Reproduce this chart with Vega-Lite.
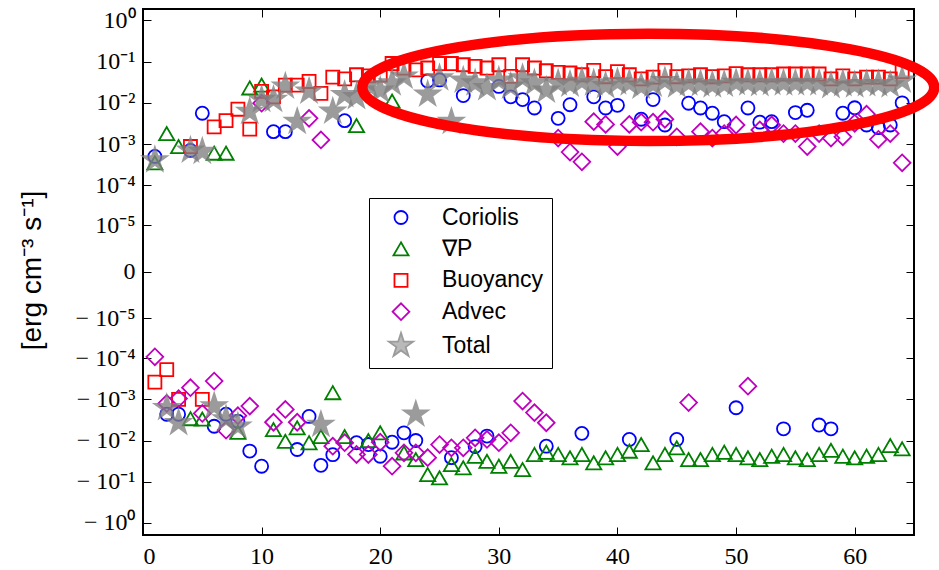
{
  "$schema": "https://vega.github.io/schema/vega-lite/v6.json",
  "width": 771,
  "height": 526,
  "autosize": "none",
  "padding": {"left": 143, "top": 9, "right": 25, "bottom": 35},
  "background": "white",
  "config": {
    "view": {"stroke": "black", "strokeWidth": 2},
    "axis": {"domain": false, "grid": false, "tickColor": "black", "tickWidth": 1, "labelColor": "black", "labelFont": "Liberation Serif", "labelFontSize": 24}
  },
  "datasets": {
    "pts": [
      {"x":1,"v":5e-4,"s":"Coriolis"},{"x":2,"v":-2.3e-3,"s":"Coriolis"},{"x":3,"v":-2.3e-3,"s":"Coriolis"},{"x":4,"v":7e-4,"s":"Coriolis"},{"x":5,"v":5.6e-3,"s":"Coriolis"},{"x":6,"v":-4.5e-3,"s":"Coriolis"},{"x":7,"v":-2.3e-3,"s":"Coriolis"},{"x":8,"v":-3.4e-3,"s":"Coriolis"},{"x":9,"v":-0.018,"s":"Coriolis"},{"x":10,"v":-0.042,"s":"Coriolis"},{"x":11,"v":2e-3,"s":"Coriolis"},{"x":12,"v":2e-3,"s":"Coriolis"},{"x":13,"v":-0.0165,"s":"Coriolis"},{"x":14,"v":-2.6e-3,"s":"Coriolis"},{"x":15,"v":-0.04,"s":"Coriolis"},{"x":16,"v":-0.022,"s":"Coriolis"},{"x":17,"v":3.7e-3,"s":"Coriolis"},{"x":18,"v":-0.0113,"s":"Coriolis"},{"x":19,"v":-0.0125,"s":"Coriolis"},{"x":20,"v":-0.024,"s":"Coriolis"},{"x":21,"v":-0.011,"s":"Coriolis"},{"x":22,"v":-6.5e-3,"s":"Coriolis"},{"x":23,"v":-0.01,"s":"Coriolis"},{"x":24,"v":0.034,"s":"Coriolis"},{"x":25,"v":0.036,"s":"Coriolis"},{"x":26,"v":-0.026,"s":"Coriolis"},{"x":27,"v":0.015,"s":"Coriolis"},{"x":28,"v":-0.014,"s":"Coriolis"},{"x":29,"v":-7.8e-3,"s":"Coriolis"},{"x":30,"v":0.025,"s":"Coriolis"},{"x":31,"v":0.014,"s":"Coriolis"},{"x":32,"v":0.012,"s":"Coriolis"},{"x":33,"v":7.5e-3,"s":"Coriolis"},{"x":34,"v":-0.0137,"s":"Coriolis"},{"x":35,"v":4.2e-3,"s":"Coriolis"},{"x":36,"v":9e-3,"s":"Coriolis"},{"x":37,"v":-6.7e-3,"s":"Coriolis"},{"x":38,"v":0.014,"s":"Coriolis"},{"x":39,"v":7.5e-3,"s":"Coriolis"},{"x":40,"v":8.7e-3,"s":"Coriolis"},{"x":41,"v":-9.4e-3,"s":"Coriolis"},{"x":42,"v":4e-3,"s":"Coriolis"},{"x":43,"v":0.012,"s":"Coriolis"},{"x":44,"v":2.9e-3,"s":"Coriolis"},{"x":45,"v":-9.4e-3,"s":"Coriolis"},{"x":46,"v":9.8e-3,"s":"Coriolis"},{"x":47,"v":7.5e-3,"s":"Coriolis"},{"x":48,"v":5.6e-3,"s":"Coriolis"},{"x":49,"v":3.5e-3,"s":"Coriolis"},{"x":50,"v":-1.6e-3,"s":"Coriolis"},{"x":51,"v":7.5e-3,"s":"Coriolis"},{"x":52,"v":3.4e-3,"s":"Coriolis"},{"x":53,"v":3.5e-3,"s":"Coriolis"},{"x":54,"v":-5.2e-3,"s":"Coriolis"},{"x":55,"v":5.8e-3,"s":"Coriolis"},{"x":56,"v":6.6e-3,"s":"Coriolis"},{"x":57,"v":-4.2e-3,"s":"Coriolis"},{"x":58,"v":-5.2e-3,"s":"Coriolis"},{"x":59,"v":5.6e-3,"s":"Coriolis"},{"x":60,"v":7.6e-3,"s":"Coriolis"},{"x":61,"v":2.9e-3,"s":"Coriolis"},{"x":62,"v":2.5e-3,"s":"Coriolis"},{"x":63,"v":2.9e-3,"s":"Coriolis"},{"x":64,"v":0.01,"s":"Coriolis"},

      {"x":1,"v":3.5e-4,"s":"∇P"},{"x":2,"v":1.8e-3,"s":"∇P"},{"x":3,"v":8.7e-4,"s":"∇P"},{"x":4,"v":-2.95e-3,"s":"∇P"},{"x":5,"v":-3e-3,"s":"∇P"},{"x":6,"v":6e-4,"s":"∇P"},{"x":7,"v":6e-4,"s":"∇P"},{"x":8,"v":-6.3e-3,"s":"∇P"},{"x":9,"v":0.023,"s":"∇P"},{"x":10,"v":0.027,"s":"∇P"},{"x":11,"v":-5.4e-3,"s":"∇P"},{"x":12,"v":-0.0104,"s":"∇P"},{"x":13,"v":-4.9e-3,"s":"∇P"},{"x":14,"v":-0.0113,"s":"∇P"},{"x":15,"v":-0.008,"s":"∇P"},{"x":16,"v":-6.9e-4,"s":"∇P"},{"x":17,"v":-0.008,"s":"∇P"},{"x":18,"v":2.8e-3,"s":"∇P"},{"x":19,"v":-0.01,"s":"∇P"},{"x":20,"v":-6.5e-3,"s":"∇P"},{"x":21,"v":0.011,"s":"∇P"},{"x":22,"v":-0.02,"s":"∇P"},{"x":23,"v":-0.0289,"s":"∇P"},{"x":24,"v":-0.0669,"s":"∇P"},{"x":25,"v":-0.0805,"s":"∇P"},{"x":26,"v":-0.0382,"s":"∇P"},{"x":27,"v":-0.0459,"s":"∇P"},{"x":28,"v":-0.024,"s":"∇P"},{"x":29,"v":-0.0318,"s":"∇P"},{"x":30,"v":-0.042,"s":"∇P"},{"x":31,"v":-0.0318,"s":"∇P"},{"x":32,"v":-0.0506,"s":"∇P"},{"x":33,"v":-0.0218,"s":"∇P"},{"x":34,"v":-0.0192,"s":"∇P"},{"x":35,"v":-0.0218,"s":"∇P"},{"x":36,"v":-0.0263,"s":"∇P"},{"x":37,"v":-0.0218,"s":"∇P"},{"x":38,"v":-0.0347,"s":"∇P"},{"x":39,"v":-0.0263,"s":"∇P"},{"x":40,"v":-0.0218,"s":"∇P"},{"x":41,"v":-0.0181,"s":"∇P"},{"x":42,"v":-0.0125,"s":"∇P"},{"x":43,"v":-0.0347,"s":"∇P"},{"x":44,"v":-0.0218,"s":"∇P"},{"x":45,"v":-0.015,"s":"∇P"},{"x":46,"v":-0.0289,"s":"∇P"},{"x":47,"v":-0.0289,"s":"∇P"},{"x":48,"v":-0.0218,"s":"∇P"},{"x":49,"v":-0.0192,"s":"∇P"},{"x":50,"v":-0.0218,"s":"∇P"},{"x":51,"v":-0.0263,"s":"∇P"},{"x":52,"v":-0.0289,"s":"∇P"},{"x":53,"v":-0.024,"s":"∇P"},{"x":54,"v":-0.0218,"s":"∇P"},{"x":55,"v":-0.0263,"s":"∇P"},{"x":56,"v":-0.0289,"s":"∇P"},{"x":57,"v":-0.0218,"s":"∇P"},{"x":58,"v":-0.0172,"s":"∇P"},{"x":59,"v":-0.024,"s":"∇P"},{"x":60,"v":-0.0263,"s":"∇P"},{"x":61,"v":-0.024,"s":"∇P"},{"x":62,"v":-0.0218,"s":"∇P"},{"x":63,"v":-0.0132,"s":"∇P"},{"x":64,"v":-0.0159,"s":"∇P"},

      {"x":1,"v":-3.8e-4,"s":"Buoyancy"},{"x":2,"v":-1.9e-4,"s":"Buoyancy"},{"x":3,"v":-1e-3,"s":"Buoyancy"},{"x":4,"v":8.7e-4,"s":"Buoyancy"},{"x":5,"v":-1e-3,"s":"Buoyancy"},{"x":6,"v":2.6e-3,"s":"Buoyancy"},{"x":7,"v":3.7e-3,"s":"Buoyancy"},{"x":8,"v":7e-3,"s":"Buoyancy"},{"x":9,"v":2.3e-3,"s":"Buoyancy"},{"x":10,"v":0.019,"s":"Buoyancy"},{"x":11,"v":0.014,"s":"Buoyancy"},{"x":12,"v":0.027,"s":"Buoyancy"},{"x":13,"v":0.027,"s":"Buoyancy"},{"x":14,"v":0.033,"s":"Buoyancy"},{"x":15,"v":0.017,"s":"Buoyancy"},{"x":16,"v":0.042,"s":"Buoyancy"},{"x":17,"v":0.038,"s":"Buoyancy"},{"x":18,"v":0.048,"s":"Buoyancy"},{"x":19,"v":0.045,"s":"Buoyancy"},{"x":20,"v":0.047,"s":"Buoyancy"},{"x":21,"v":0.09,"s":"Buoyancy"},{"x":22,"v":0.07,"s":"Buoyancy"},{"x":23,"v":0.063,"s":"Buoyancy"},{"x":24,"v":0.07,"s":"Buoyancy"},{"x":25,"v":0.09,"s":"Buoyancy"},{"x":26,"v":0.09,"s":"Buoyancy"},{"x":27,"v":0.084,"s":"Buoyancy"},{"x":28,"v":0.077,"s":"Buoyancy"},{"x":29,"v":0.07,"s":"Buoyancy"},{"x":30,"v":0.084,"s":"Buoyancy"},{"x":31,"v":0.044,"s":"Buoyancy"},{"x":32,"v":0.084,"s":"Buoyancy"},{"x":33,"v":0.07,"s":"Buoyancy"},{"x":34,"v":0.06,"s":"Buoyancy"},{"x":35,"v":0.055,"s":"Buoyancy"},{"x":36,"v":0.053,"s":"Buoyancy"},{"x":37,"v":0.048,"s":"Buoyancy"},{"x":38,"v":0.061,"s":"Buoyancy"},{"x":39,"v":0.043,"s":"Buoyancy"},{"x":40,"v":0.057,"s":"Buoyancy"},{"x":41,"v":0.048,"s":"Buoyancy"},{"x":42,"v":0.038,"s":"Buoyancy"},{"x":43,"v":0.042,"s":"Buoyancy"},{"x":44,"v":0.061,"s":"Buoyancy"},{"x":45,"v":0.043,"s":"Buoyancy"},{"x":46,"v":0.045,"s":"Buoyancy"},{"x":47,"v":0.048,"s":"Buoyancy"},{"x":48,"v":0.043,"s":"Buoyancy"},{"x":49,"v":0.045,"s":"Buoyancy"},{"x":50,"v":0.051,"s":"Buoyancy"},{"x":51,"v":0.048,"s":"Buoyancy"},{"x":52,"v":0.048,"s":"Buoyancy"},{"x":53,"v":0.048,"s":"Buoyancy"},{"x":54,"v":0.05,"s":"Buoyancy"},{"x":55,"v":0.05,"s":"Buoyancy"},{"x":56,"v":0.05,"s":"Buoyancy"},{"x":57,"v":0.05,"s":"Buoyancy"},{"x":58,"v":0.038,"s":"Buoyancy"},{"x":59,"v":0.045,"s":"Buoyancy"},{"x":60,"v":0.038,"s":"Buoyancy"},{"x":61,"v":0.042,"s":"Buoyancy"},{"x":62,"v":0.042,"s":"Buoyancy"},{"x":63,"v":0.038,"s":"Buoyancy"},{"x":64,"v":0.057,"s":"Buoyancy"},

      {"x":1,"v":-9.2e-5,"s":"Advec"},{"x":2,"v":-1.26e-3,"s":"Advec"},{"x":3,"v":-9.6e-4,"s":"Advec"},{"x":4,"v":-5.2e-4,"s":"Advec"},{"x":5,"v":-2.2e-3,"s":"Advec"},{"x":6,"v":-3.6e-4,"s":"Advec"},{"x":7,"v":-5.6e-3,"s":"Advec"},{"x":8,"v":-2.5e-3,"s":"Advec"},{"x":9,"v":-1.46e-3,"s":"Advec"},{"x":10,"v":9.8e-3,"s":"Advec"},{"x":11,"v":-3.6e-3,"s":"Advec"},{"x":12,"v":-1.76e-3,"s":"Advec"},{"x":13,"v":-3.6e-3,"s":"Advec"},{"x":14,"v":4.2e-3,"s":"Advec"},{"x":15,"v":1.26e-3,"s":"Advec"},{"x":16,"v":-0.0137,"s":"Advec"},{"x":17,"v":-0.0113,"s":"Advec"},{"x":18,"v":-0.0218,"s":"Advec"},{"x":19,"v":-0.0218,"s":"Advec"},{"x":20,"v":-0.011,"s":"Advec"},{"x":21,"v":-0.042,"s":"Advec"},{"x":22,"v":-0.0198,"s":"Advec"},{"x":23,"v":-0.0198,"s":"Advec"},{"x":24,"v":-0.026,"s":"Advec"},{"x":25,"v":-0.0125,"s":"Advec"},{"x":26,"v":-0.015,"s":"Advec"},{"x":27,"v":-0.015,"s":"Advec"},{"x":28,"v":-8.6e-3,"s":"Advec"},{"x":29,"v":-9.4e-3,"s":"Advec"},{"x":30,"v":-0.0113,"s":"Advec"},{"x":31,"v":-6.5e-3,"s":"Advec"},{"x":32,"v":-1.1e-3,"s":"Advec"},{"x":33,"v":-2.1e-3,"s":"Advec"},{"x":34,"v":-3.7e-3,"s":"Advec"},{"x":35,"v":1.4e-3,"s":"Advec"},{"x":36,"v":6.4e-4,"s":"Advec"},{"x":37,"v":3.7e-4,"s":"Advec"},{"x":38,"v":3.5e-3,"s":"Advec"},{"x":39,"v":3e-3,"s":"Advec"},{"x":40,"v":8.7e-4,"s":"Advec"},{"x":41,"v":3e-3,"s":"Advec"},{"x":42,"v":3.4e-3,"s":"Advec"},{"x":43,"v":3.4e-3,"s":"Advec"},{"x":44,"v":4e-3,"s":"Advec"},{"x":45,"v":1.5e-3,"s":"Advec"},{"x":46,"v":-1.2e-3,"s":"Advec"},{"x":47,"v":2e-3,"s":"Advec"},{"x":48,"v":1.4e-3,"s":"Advec"},{"x":49,"v":1.8e-3,"s":"Advec"},{"x":50,"v":2.9e-3,"s":"Advec"},{"x":51,"v":-4.8e-4,"s":"Advec"},{"x":52,"v":2.2e-3,"s":"Advec"},{"x":53,"v":2.9e-3,"s":"Advec"},{"x":54,"v":1.8e-3,"s":"Advec"},{"x":55,"v":1.8e-3,"s":"Advec"},{"x":56,"v":8.7e-4,"s":"Advec"},{"x":57,"v":1.8e-3,"s":"Advec"},{"x":58,"v":1.4e-3,"s":"Advec"},{"x":59,"v":1.5e-3,"s":"Advec"},{"x":60,"v":3.2e-3,"s":"Advec"},{"x":61,"v":5.3e-3,"s":"Advec"},{"x":62,"v":1.3e-3,"s":"Advec"},{"x":63,"v":1.8e-3,"s":"Advec"},{"x":64,"v":3.5e-4,"s":"Advec"},

      {"x":1,"v":4.1e-4,"s":"Total"},{"x":2,"v":-1.6e-3,"s":"Total"},{"x":3,"v":-3.7e-3,"s":"Total"},{"x":4,"v":7e-4,"s":"Total"},{"x":5,"v":6.6e-4,"s":"Total"},{"x":6,"v":-1.46e-3,"s":"Total"},{"x":7,"v":-3e-3,"s":"Total"},{"x":8,"v":-4.5e-3,"s":"Total"},{"x":9,"v":6.1e-3,"s":"Total"},{"x":10,"v":0.012,"s":"Total"},{"x":11,"v":0.012,"s":"Total"},{"x":12,"v":0.025,"s":"Total"},{"x":13,"v":3.5e-3,"s":"Total"},{"x":14,"v":0.019,"s":"Total"},{"x":15,"v":-4.1e-3,"s":"Total"},{"x":16,"v":6.2e-3,"s":"Total"},{"x":17,"v":0.0157,"s":"Total"},{"x":18,"v":0.014,"s":"Total"},{"x":19,"v":0.027,"s":"Total"},{"x":20,"v":0.02,"s":"Total"},{"x":21,"v":0.03,"s":"Total"},{"x":22,"v":0.044,"s":"Total"},{"x":23,"v":-2.3e-3,"s":"Total"},{"x":24,"v":0.016,"s":"Total"},{"x":25,"v":0.04,"s":"Total"},{"x":26,"v":3.5e-3,"s":"Total"},{"x":27,"v":0.035,"s":"Total"},{"x":28,"v":0.03,"s":"Total"},{"x":29,"v":0.023,"s":"Total"},{"x":30,"v":0.035,"s":"Total"},{"x":31,"v":0.025,"s":"Total"},{"x":32,"v":0.04,"s":"Total"},{"x":33,"v":0.03,"s":"Total"},{"x":34,"v":0.02,"s":"Total"},{"x":35,"v":0.03,"s":"Total"},{"x":36,"v":0.028,"s":"Total"},{"x":37,"v":0.033,"s":"Total"},{"x":38,"v":0.03,"s":"Total"},{"x":39,"v":0.026,"s":"Total"},{"x":40,"v":0.032,"s":"Total"},{"x":41,"v":0.03,"s":"Total"},{"x":42,"v":0.025,"s":"Total"},{"x":43,"v":0.028,"s":"Total"},{"x":44,"v":0.034,"s":"Total"},{"x":45,"v":0.027,"s":"Total"},{"x":46,"v":0.03,"s":"Total"},{"x":47,"v":0.029,"s":"Total"},{"x":48,"v":0.027,"s":"Total"},{"x":49,"v":0.028,"s":"Total"},{"x":50,"v":0.031,"s":"Total"},{"x":51,"v":0.03,"s":"Total"},{"x":52,"v":0.029,"s":"Total"},{"x":53,"v":0.031,"s":"Total"},{"x":54,"v":0.03,"s":"Total"},{"x":55,"v":0.03,"s":"Total"},{"x":56,"v":0.031,"s":"Total"},{"x":57,"v":0.03,"s":"Total"},{"x":58,"v":0.026,"s":"Total"},{"x":59,"v":0.029,"s":"Total"},{"x":60,"v":0.027,"s":"Total"},{"x":61,"v":0.029,"s":"Total"},{"x":62,"v":0.029,"s":"Total"},{"x":63,"v":0.027,"s":"Total"},{"x":64,"v":0.035,"s":"Total"}
    ],
    "mark": [{"x": 42.6, "v": 0.0237}]
  },
  "layer": [
    {
      "data": {"name": "pts"},
      "mark": {"type": "point", "strokeWidth": 1.8},
      "encoding": {
        "x": {"field": "x", "type": "quantitative", "scale": {"domain": [0, 65], "nice": false, "zero": false},
              "axis": {"orient": "bottom", "values": [0,10,20,30,40,50,60], "tickSize": -8, "labelPadding": 17, "title": null}},
        "y": {"field": "v", "type": "quantitative", "scale": {"type": "symlog", "constant": 8e-7, "domain": [-1.959, 1.893], "nice": false, "zero": false},
              "axis": {"orient": "left", "values": [1,0.1,0.01,0.001,0.0001,0.00001,0,-0.00001,-0.0001,-0.001,-0.01,-0.1,-1], "tickSize": -8, "labelPadding": 16,
                       "labelExpr": "datum.value == 0 ? '0' : (datum.value < 0 ? '− ' : '') + '10' + ['⁰','⁻¹','⁻²','⁻³','⁻⁴','⁻⁵'][round(-log(abs(datum.value))/LN10)]",
                       "title": "[erg cm⁻³ s⁻¹]", "titleFont": "Liberation Sans", "titleFontSize": 28, "titleFontWeight": "normal", "titleColor": "black", "titleX": -97, "titleY": 261}},
        "shape": {"field": "s", "type": "nominal", "scale": {"domain": ["Coriolis","∇P","Buoyancy","Advec","Total"], "range": ["circle","triangle-up","square","diamond","M0,-1L0.2245,-0.309L0.9511,-0.309L0.3633,0.118L0.5878,0.809L0,0.382L-0.5878,0.809L-0.3633,0.118L-0.9511,-0.309L-0.2245,-0.309Z"]},
                  "legend": {"title": null, "orient": "none", "legendX": 226, "legendY": 189, "strokeColor": "black", "fillColor": "white", "padding": 8, "cornerRadius": 0, "gridAlign": "all",
                             "labelFont": "Liberation Sans", "labelFontSize": 23, "labelColor": "black", "rowPadding": 0.4, "symbolOffset": 10, "labelOffset": 27, "symbolStrokeWidth": 1.8}},
        "stroke": {"field": "s", "type": "nominal", "scale": {"domain": ["Coriolis","∇P","Buoyancy","Advec","Total"], "range": ["#0000ff","#008000","#ff0000","#bf00bf","#808080"]}},
        "fill": {"field": "s", "type": "nominal", "scale": {"domain": ["Coriolis","∇P","Buoyancy","Advec","Total"], "range": ["transparent","transparent","transparent","transparent","#808080"]}},
        "size": {"field": "s", "type": "nominal", "scale": {"type": "ordinal", "domain": ["Coriolis","∇P","Buoyancy","Advec","Total"], "range": [170, 230, 170, 280, 650]}},
        "opacity": {"field": "s", "type": "nominal", "scale": {"type": "ordinal", "domain": ["Coriolis","∇P","Buoyancy","Advec","Total"], "range": [1, 1, 1, 1, 0.78]}}
      }
    },
    {
      "data": {"name": "pts"},
      "mark": {"type": "point", "opacity": 0},
      "encoding": {
        "x": {"field": "x", "type": "quantitative", "axis": {"orient": "top", "values": [0,10,20,30,40,50,60], "tickSize": -8, "labels": false, "title": null}},
        "y": {"field": "v", "type": "quantitative", "axis": {"orient": "right", "values": [1,0.1,0.01,0.001,0.0001,0.00001,0,-0.00001,-0.0001,-0.001,-0.01,-0.1,-1], "tickSize": -8, "labels": false, "title": null}}
      }
    },
    {
      "data": {"name": "mark"},
      "mark": {"type": "point", "shape": "M-1,0C-1,-0.1037,-0.5523,-0.1877,0,-0.1877C0.5523,-0.1877,1,-0.1037,1,0C1,0.1037,0.5523,0.1877,0,0.1877C-0.5523,0.1877,-1,0.1037,-1,0Z", "filled": false, "stroke": "#ff0000", "strokeWidth": 10.5, "opacity": 1, "size": 327000},
      "encoding": {
        "x": {"field": "x", "type": "quantitative", "axis": null},
        "y": {"field": "v", "type": "quantitative", "axis": null}
      }
    }
  ],
  "resolve": {"axis": {"x": "independent", "y": "independent"}}
}
